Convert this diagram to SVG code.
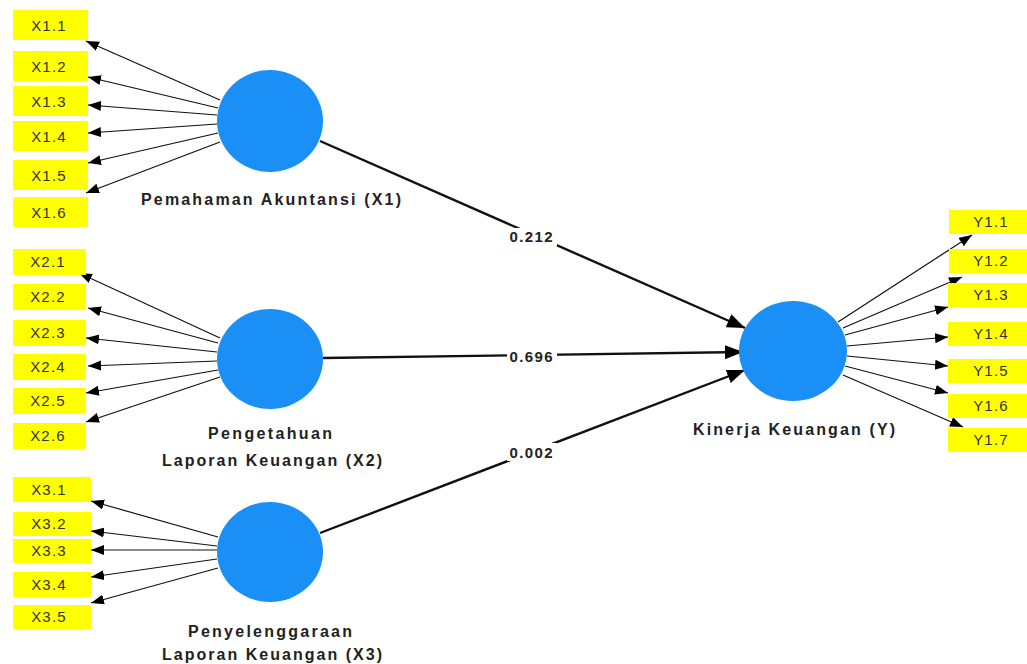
<svg xmlns="http://www.w3.org/2000/svg" width="1027" height="664" viewBox="0 0 1027 664">
  <style>
    .ind rect { fill: #ffff00; }
    .ind text { font-family: "Liberation Sans", Arial, sans-serif; font-size: 15px; fill: #333; text-anchor: middle; letter-spacing: 1.2px; }
    .lv ellipse { fill: #1a8ff5; }
    .lv text { font-family: "Liberation Sans", Arial, sans-serif; font-size: 16px; font-weight: bold; fill: #222; text-anchor: middle; }
    .load { stroke: #111; stroke-width: 1.2; fill: none; marker-end: url(#arrowSmall); }
    .path { stroke: #111; stroke-width: 2.4; fill: none; marker-end: url(#arrowBig); }
    .coef rect { fill: #fff; }
    .coef text { font-family: "Liberation Sans", Arial, sans-serif; font-size: 15px; font-weight: bold; fill: #222; text-anchor: middle; }
  </style>
  <defs>
    <marker id="arrowSmall" markerUnits="userSpaceOnUse" markerWidth="14" markerHeight="11" refX="13" refY="5" orient="auto">
      <path d="M0,0 L13,5 L0,10 z" fill="#000"/>
    </marker>
    <marker id="arrowBig" markerUnits="userSpaceOnUse" markerWidth="19" markerHeight="15" refX="18" refY="7" orient="auto">
      <path d="M0,0 L18,7 L0,14 z" fill="#000"/>
    </marker>
  </defs>
  <rect width="1027" height="664" fill="#fff"/>

  <!-- connectors: outer loadings and inner path coefficients -->
  <g id="connectors">
    <line class="load" x1="220" y1="100" x2="86" y2="41"/>
    <line class="load" x1="218" y1="108" x2="88" y2="77"/>
    <line class="load" x1="217" y1="115" x2="88" y2="105"/>
    <line class="load" x1="217" y1="124" x2="88" y2="133"/>
    <line class="load" x1="218" y1="133" x2="88" y2="163"/>
    <line class="load" x1="220" y1="142" x2="86" y2="193"/>

    <line class="load" x1="220" y1="338" x2="79" y2="273"/>
    <line class="load" x1="218" y1="343" x2="88" y2="308"/>
    <line class="load" x1="217" y1="352" x2="86" y2="338"/>
    <line class="load" x1="217" y1="361" x2="88" y2="366"/>
    <line class="load" x1="218" y1="370" x2="86" y2="393"/>
    <line class="load" x1="220" y1="377" x2="86" y2="422"/>

    <line class="load" x1="218" y1="537" x2="91" y2="501"/>
    <line class="load" x1="217" y1="546" x2="91" y2="531"/>
    <line class="load" x1="217" y1="550" x2="91" y2="550"/>
    <line class="load" x1="217" y1="559" x2="91" y2="577"/>
    <line class="load" x1="218" y1="568" x2="91" y2="603"/>

    <line class="load" x1="838" y1="322" x2="972" y2="235"/>
    <line class="load" x1="843" y1="328" x2="962" y2="277"/>
    <line class="load" x1="845" y1="335" x2="948" y2="307"/>
    <line class="load" x1="847" y1="346" x2="948" y2="337"/>
    <line class="load" x1="847" y1="356" x2="948" y2="366"/>
    <line class="load" x1="845" y1="366" x2="948" y2="393"/>
    <line class="load" x1="843" y1="375" x2="963" y2="427"/>

    <line class="path" x1="320" y1="141" x2="745" y2="328"/>
    <line class="path" x1="323" y1="358" x2="743" y2="352"/>
    <line class="path" x1="320" y1="533" x2="745" y2="370"/>

    <g class="coef">
      <rect x="507" y="228" width="50" height="18"/>
      <text x="531" y="242" textLength="43" lengthAdjust="spacing">0.212</text>
      <rect x="507" y="347" width="50" height="18"/>
      <text x="531" y="362" textLength="43" lengthAdjust="spacing">0.696</text>
      <rect x="507" y="443" width="50" height="18"/>
      <text x="531" y="458" textLength="43" lengthAdjust="spacing">0.002</text>
    </g>
  </g>

  <!-- latent variables -->
  <g id="X1" class="lv">
    <ellipse cx="270" cy="121" rx="53" ry="51"/>
    <text x="271" y="205" textLength="260" lengthAdjust="spacing">Pemahaman Akuntansi (X1)</text>
  </g>
  <g id="X2" class="lv">
    <ellipse cx="270" cy="359" rx="53" ry="50"/>
    <text x="270" y="439" textLength="124" lengthAdjust="spacing">Pengetahuan</text>
    <text x="272" y="466" textLength="220" lengthAdjust="spacing">Laporan Keuangan (X2)</text>
  </g>
  <g id="X3" class="lv">
    <ellipse cx="270" cy="552" rx="53" ry="50"/>
    <text x="270" y="637" textLength="164" lengthAdjust="spacing">Penyelenggaraan</text>
    <text x="272" y="660" textLength="220" lengthAdjust="spacing">Laporan Keuangan (X3)</text>
  </g>
  <g id="Y" class="lv">
    <ellipse cx="793" cy="351" rx="54" ry="50"/>
    <text x="794" y="435" textLength="202" lengthAdjust="spacing">Kinerja Keuangan (Y)</text>
  </g>

  <!-- indicators -->
  <g id="X1.1" class="ind"><rect x="13" y="10" width="75" height="30"/><text x="49" y="31">X1.1</text></g>
  <g id="X1.2" class="ind"><rect x="13" y="51" width="75" height="30"/><text x="49" y="72">X1.2</text></g>
  <g id="X1.3" class="ind"><rect x="13" y="86" width="75" height="30"/><text x="49" y="107">X1.3</text></g>
  <g id="X1.4" class="ind"><rect x="13" y="121" width="75" height="30"/><text x="49" y="142">X1.4</text></g>
  <g id="X1.5" class="ind"><rect x="13" y="160" width="75" height="30"/><text x="49" y="181">X1.5</text></g>
  <g id="X1.6" class="ind"><rect x="13" y="197" width="75" height="30"/><text x="49" y="218">X1.6</text></g>

  <g id="X2.1" class="ind"><rect x="13" y="249" width="73" height="26"/><text x="48" y="267">X2.1</text></g>
  <g id="X2.2" class="ind"><rect x="13" y="284" width="73" height="26"/><text x="48" y="302">X2.2</text></g>
  <g id="X2.3" class="ind"><rect x="13" y="320" width="73" height="26"/><text x="48" y="338">X2.3</text></g>
  <g id="X2.4" class="ind"><rect x="13" y="354" width="73" height="26"/><text x="48" y="372">X2.4</text></g>
  <g id="X2.5" class="ind"><rect x="13" y="388" width="73" height="26"/><text x="48" y="406">X2.5</text></g>
  <g id="X2.6" class="ind"><rect x="13" y="423" width="73" height="26"/><text x="48" y="441">X2.6</text></g>

  <g id="X3.1" class="ind"><rect x="13" y="477" width="78" height="25"/><text x="49" y="495">X3.1</text></g>
  <g id="X3.2" class="ind"><rect x="13" y="512" width="78" height="24"/><text x="49" y="529">X3.2</text></g>
  <g id="X3.3" class="ind"><rect x="13" y="539" width="78" height="24"/><text x="49" y="556">X3.3</text></g>
  <g id="X3.4" class="ind"><rect x="13" y="572" width="78" height="25"/><text x="49" y="590">X3.4</text></g>
  <g id="X3.5" class="ind"><rect x="13" y="605" width="78" height="24"/><text x="49" y="622">X3.5</text></g>

  <g id="Y1.1" class="ind"><rect x="949" y="210" width="78" height="24"/><text x="991" y="227">Y1.1</text></g>
  <g id="Y1.2" class="ind"><rect x="949" y="249" width="78" height="24"/><text x="991" y="266">Y1.2</text></g>
  <g id="Y1.3" class="ind"><rect x="948" y="283" width="79" height="24"/><text x="991" y="300">Y1.3</text></g>
  <g id="Y1.4" class="ind"><rect x="948" y="322" width="79" height="24"/><text x="991" y="339">Y1.4</text></g>
  <g id="Y1.5" class="ind"><rect x="948" y="359" width="79" height="24"/><text x="991" y="376">Y1.5</text></g>
  <g id="Y1.6" class="ind"><rect x="948" y="394" width="79" height="24"/><text x="991" y="411">Y1.6</text></g>
  <g id="Y1.7" class="ind"><rect x="948" y="428" width="79" height="24"/><text x="991" y="445">Y1.7</text></g>
</svg>
